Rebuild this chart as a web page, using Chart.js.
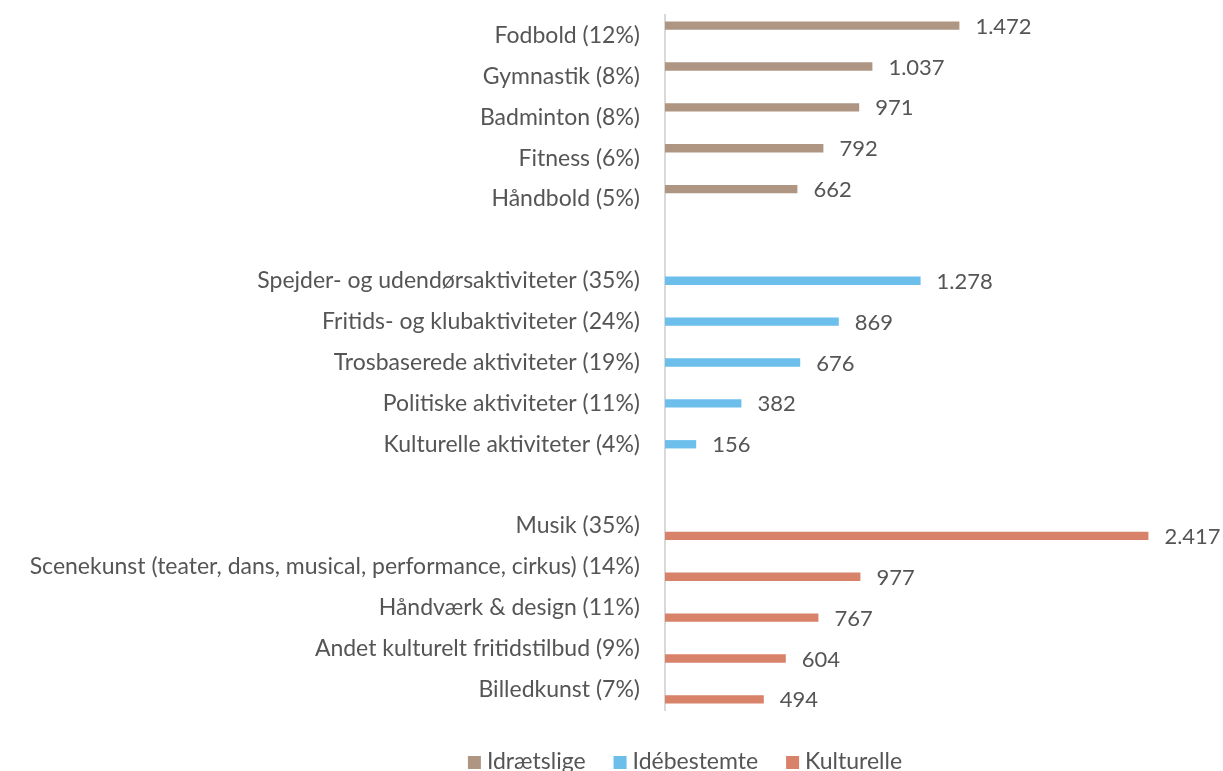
<!DOCTYPE html>
<html>
<head>
<meta charset="utf-8">
<script src="https://cdn.jsdelivr.net/npm/chart.js@4/dist/chart.umd.min.js"></script>
<style>
  html, body { margin: 0; padding: 0; background: #fff; overflow: hidden; }
  #wrap { width: 1223px; height: 771px; position: relative; }
</style>
</head>
<body>
<div id="wrap"><canvas id="activityChart"></canvas></div>
<script>
const sportLabels = ['Fodbold (12%)', 'Gymnastik (8%)', 'Badminton (8%)', 'Fitness (6%)', 'Håndbold (5%)'];
const sportValues = [1472, 1037, 971, 792, 662];

const ideaLabels = ['Spejder- og udendørsaktiviteter (35%)', 'Fritids- og klubaktiviteter (24%)', 'Trosbaserede aktiviteter (19%)', 'Politiske aktiviteter (11%)', 'Kulturelle aktiviteter (4%)'];
const ideaValues = [1278, 869, 676, 382, 156];

const cultureLabels = ['Musik (35%)', 'Scenekunst (teater, dans, musical, performance, cirkus) (14%)', 'Håndværk & design (11%)', 'Andet kulturelt fritidstilbud (9%)', 'Billedkunst (7%)'];
const cultureValues = [2417, 977, 767, 604, 494];

const seriesNames = ['Idrætslige', 'Idébestemte', 'Kulturelle'];
const seriesColors = ['#ae9683', '#6cbfeb', '#d8826a'];

const TEXT = '#555555';
const FONT = 'Lato, "Open Sans", sans-serif';

// one empty row between the groups
const groups = [
    { labels: sportLabels, values: sportValues },
    { labels: ideaLabels, values: ideaValues },
    { labels: cultureLabels, values: cultureValues }
];
const labels = [];
const seriesData = [[], [], []];
groups.forEach((g, gi) => {
    if (gi > 0) {
        labels.push('');
        seriesData.forEach(d => d.push(null));
    }
    g.labels.forEach((lab, i) => {
        labels.push(lab);
        seriesData.forEach((d, si) => d.push(si === gi ? g.values[i] : null));
    });
});

function fmt(v) {
    return String(v).replace(/\B(?=(\d{3})+(?!\d))/g, '.');
}

const valueLabels = {
    id: 'valueLabels',
    afterDatasetsDraw(chart) {
        const ctx = chart.ctx;
        ctx.save();
        ctx.font = '22px ' + FONT;
        ctx.fillStyle = TEXT;
        ctx.textAlign = 'left';
        ctx.textBaseline = 'middle';
        chart.data.datasets.forEach((ds, di) => {
            chart.getDatasetMeta(di).data.forEach((bar, i) => {
                if (ds.data[i] == null) return;
                ctx.fillText(fmt(ds.data[i]), bar.x + 16, bar.y + 1);
            });
        });
        ctx.restore();
    }
};

// legend drawn by hand so it can sit half cut off at the bottom like the original
const bottomLegend = {
    id: 'bottomLegend',
    afterDraw(chart) {
        const ctx = chart.ctx;
        ctx.save();
        ctx.font = '23px ' + FONT;
        ctx.textBaseline = 'middle';
        ctx.textAlign = 'left';
        const box = 13, gapText = 6, gapItem = 28;
        const items = chart.data.datasets.map(ds => ({
            text: ds.label, color: ds.backgroundColor, w: ctx.measureText(ds.label).width
        }));
        const total = items.reduce((s, it) => s + box + gapText + it.w, 0) + gapItem * (items.length - 1);
        let x = 685 - total / 2;
        const y = chart.chartArea.bottom + 52;
        items.forEach(it => {
            ctx.fillStyle = it.color;
            ctx.fillRect(x, y - 6, box, box);
            x += box + gapText;
            ctx.fillStyle = TEXT;
            ctx.fillText(it.text, x, y);
            x += it.w + gapItem;
        });
        ctx.restore();
    }
};

window.onload = () => {
    const ctx = document.getElementById('activityChart').getContext('2d');
    new Chart(ctx, {
        type: 'bar',
        data: {
            labels: labels,
            datasets: seriesData.map((d, i) => ({
                label: seriesNames[i],
                data: d,
                backgroundColor: seriesColors[i],
                categoryPercentage: 0.72,
                barPercentage: 0.85,
                skipNull: false
            }))
        },
        options: {
            indexAxis: 'y',
            responsive: true, maintainAspectRatio: false,
            animation: false,
            layout: { padding: { top: 15, right: 58, left: 0, bottom: 61 } },
            scales: {
                x: { display: false, min: 0, max: 2500 },
                y: {
                    grid: { display: false },
                    border: { display: true, color: '#d9d9d9', width: 2 },
                    ticks: { color: TEXT, font: { family: FONT, size: 23 }, padding: 17, autoSkip: false },
                    afterFit(scale) {
                        scale.width = 665;
                        scale.paddingTop = 0;
                        scale.paddingBottom = 0;
                    }
                }
            },
            plugins: {
                legend: { display: false },
                tooltip: { enabled: false }
            }
        },
        plugins: [valueLabels, bottomLegend]
    });
};
</script>
</body>
</html>
